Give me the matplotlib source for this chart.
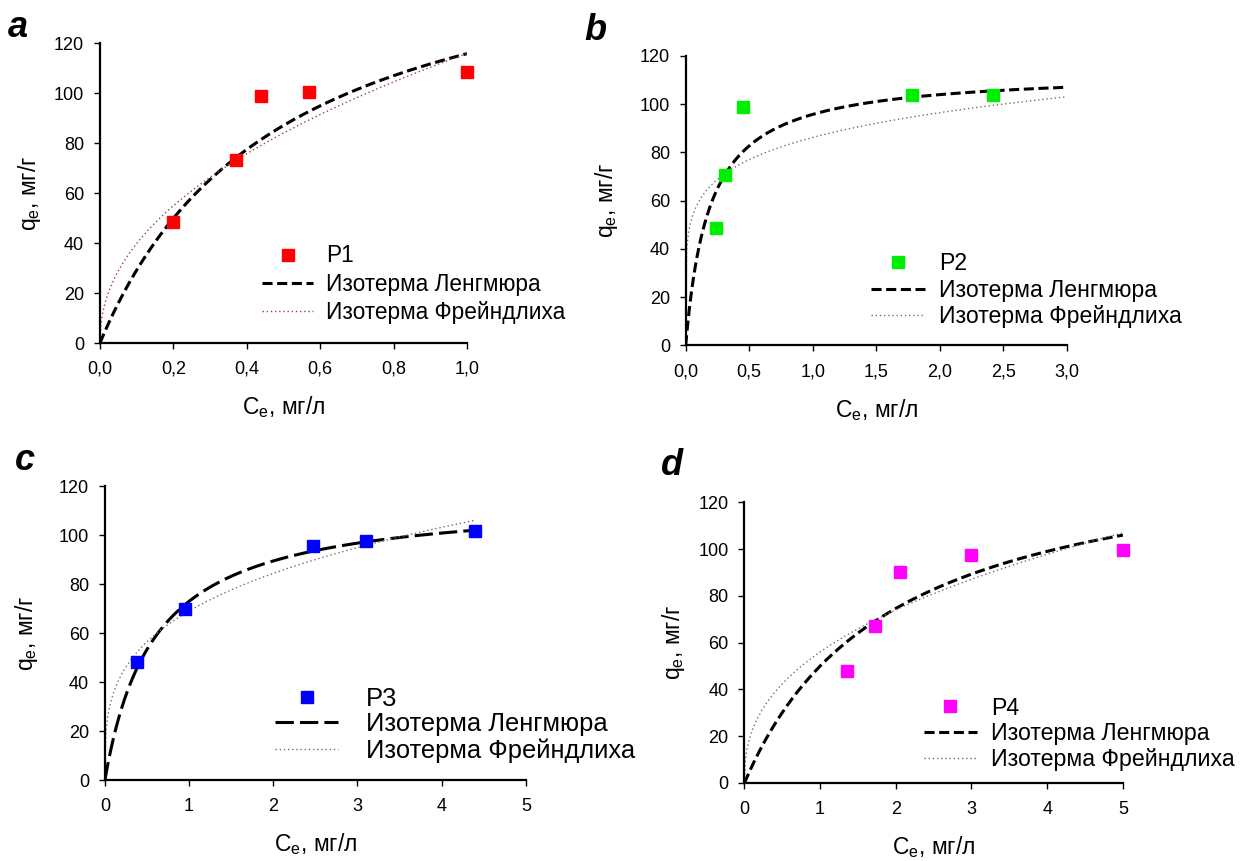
import numpy as np
from matplotlib import pyplot as plt
from matplotlib.ticker import FuncFormatter

plt.rcParams['font.family'] = ['Liberation Sans', 'DejaVu Sans']

# experimental points (Ce, qe) for each sorbent
ce_p1 = [0.20, 0.37, 0.44, 0.57, 1.00]
qe_p1 = [48.5, 73.5, 99.0, 100.5, 108.5]
ce_p2 = [0.24, 0.31, 0.45, 1.78, 2.42]
qe_p2 = [48.5, 70.5, 99.0, 104.0, 104.0]
ce_p3 = [0.38, 0.95, 2.47, 3.10, 4.40]
qe_p3 = [48.0, 70.0, 95.5, 97.5, 101.5]
ce_p4 = [1.36, 1.73, 2.05, 3.00, 5.00]
qe_p4 = [48.0, 67.0, 90.0, 97.5, 99.5]

# isotherm parameters: qmax, KL, KF, 1/n, Ce max
langmuir_qmax = [173.0, 113.7, 115.5, 147.2]
langmuir_k = [2.03, 5.34, 1.715, 0.514]
freundlich_k = [116.0, 86.2, 69.0, 56.0]
freundlich_inv_n = [0.464, 0.1625, 0.29, 0.402]
curve_cmax = [1.0, 3.0, 4.4, 5.0]

names = ["P1", "P2", "P3", "P4"]
colors = ["#ff0000", "#00ee00", "#0000ff", "#ff00ff"]
frd_colors = ["#a04040", "#707070", "#707070", "#707070"]
letters = ["a", "b", "c", "d"]
xmax = [1.0, 3.0, 5.0, 5.0]
xstep = [0.2, 0.5, 1, 1]
points = [(ce_p1, qe_p1), (ce_p2, qe_p2), (ce_p3, qe_p3), (ce_p4, qe_p4)]

# axes rectangles in figure fractions
rects = [[0.080, 0.6016, 0.294, 0.348],
         [0.549, 0.599, 0.305, 0.336],
         [0.084, 0.094, 0.337, 0.3415],
         [0.596, 0.0906, 0.303, 0.326]]
letter_pos = [(0.006, 0.957), (0.468, 0.9535), (0.012, 0.454), (0.529, 0.448)]
leg_anchor = [(0.441, 0.329), (0.487, 0.321), (0.404, 0.318), (0.475, 0.308)]
leg_size = [16.3, 16.6, 18.4, 16.7]
leg_hlen = [2.27, 2.33, 2.48, 2.26]
leg_hpad = [0.58, 0.61, 1.07, 0.63]
leg_space = [0.24, 0.14, 0.07, 0.11]
lang_dash = [(3.3, 1.5), (3.3, 1.5), (6, 2), (3.3, 1.5)]
ylab_pad = [8, 14, 14, 8]

fig = plt.figure(figsize=(12.49, 8.61), dpi=100)

for i in range(4):
    ax = fig.add_axes(rects[i])
    ce, qe = points[i]
    x = np.linspace(0, curve_cmax[i], 400)
    q_l = langmuir_qmax[i] * langmuir_k[i] * x / (1 + langmuir_k[i] * x)
    q_f = freundlich_k[i] * x ** freundlich_inv_n[i]

    ax.plot(ce, qe, "s", color=colors[i], markersize=8.3, label=names[i],
            zorder=3, clip_on=False)
    ax.plot(x, q_l, color="black", lw=2.2, dashes=lang_dash[i], label="Изотерма Ленгмюра")
    ax.plot(x, q_f, color=frd_colors[i], lw=1, dashes=(1, 2), label="Изотерма Фрейндлиха")

    ax.set_xlim(0, xmax[i])
    ax.set_ylim(0, 120)
    ax.set_xticks(np.arange(0, xmax[i] + 1e-9, xstep[i]))
    ax.set_yticks(np.arange(0, 121, 20))
    if xstep[i] < 1:
        ax.xaxis.set_major_formatter(FuncFormatter(lambda v, p: ("%.1f" % v).replace(".", ",")))
    else:
        ax.xaxis.set_major_formatter(FuncFormatter(lambda v, p: "%d" % round(v)))
    for s in ["top", "right"]:
        ax.spines[s].set_visible(False)
    for s in ["left", "bottom"]:
        ax.spines[s].set_linewidth(1.6)
    ax.tick_params(direction="out", length=4.3, width=1, labelsize=13, pad=7)
    ax.tick_params(axis="x", pad=8.5)
    ax.set_xlabel(r"C$_\mathregular{e}$, мг/л", fontsize=16.5, labelpad=12)
    ax.set_ylabel(r"q$_\mathregular{e}$, мг/г", fontsize=16.5, labelpad=ylab_pad[i])
    ax.legend(loc="upper left", bbox_to_anchor=leg_anchor[i], frameon=False,
              fontsize=leg_size[i], numpoints=1, handlelength=leg_hlen[i],
              handletextpad=leg_hpad[i], labelspacing=leg_space[i], borderpad=0,
              borderaxespad=0)
    fig.text(letter_pos[i][0], letter_pos[i][1], letters[i], fontsize=26,
             fontweight="bold", fontstyle="italic", ha="left", va="baseline")

plt.savefig("out.png", dpi=100)
